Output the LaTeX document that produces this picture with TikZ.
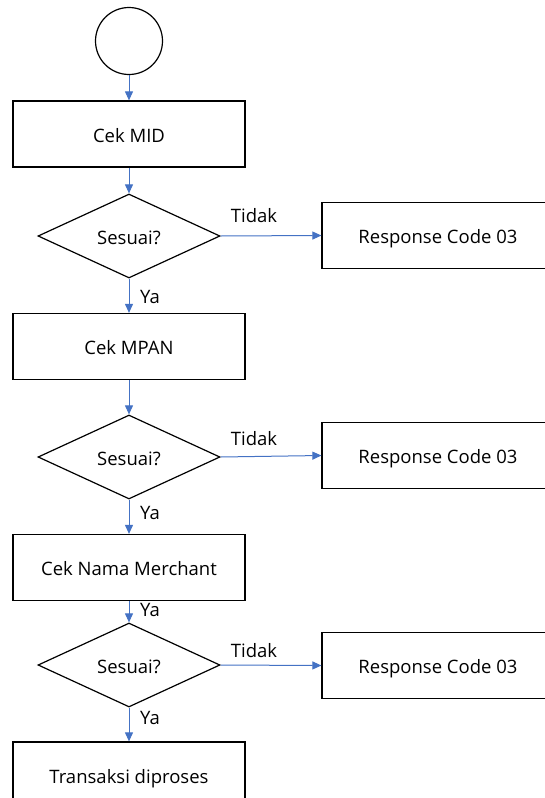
\documentclass[tikz,border=0pt]{standalone}
\usepackage{fontspec}
\setmainfont{Open Sans}
\usetikzlibrary{shapes.geometric,arrows.meta}
\definecolor{flowblue}{HTML}{4472C4}
\tikzset{
  procbox/.style={draw=black, line width=1.2pt, rectangle, minimum width=232pt, minimum height=66pt, inner sep=0pt, text height=16pt, text depth=0pt, font=\fontsize{18.5}{22}\selectfont},
  decide/.style={draw=black, line width=1.2pt, diamond, shape aspect=2.2, minimum width=182pt, minimum height=84pt, inner sep=0pt, text height=16pt, text depth=0pt, font=\fontsize{18.5}{22}\selectfont},
  startnode/.style={draw=black, line width=1.2pt, circle, minimum size=67pt, inner sep=0pt},
  flow/.style={draw=flowblue, line width=1pt, -{Triangle[length=9pt,width=8pt]}},
  lbl/.style={font=\fontsize{18.5}{22}\selectfont, inner sep=0pt}
}
\begin{document}
\begin{tikzpicture}[x=1pt,y=-1pt]
\useasboundingbox (0,0) rectangle (545,798);
\node[startnode] (start) at (129,41) {};
\node[procbox] (mid) at (129,134) {Cek MID};
\node[decide] (d1) at (129,236) {Sesuai?};
\node[procbox] (r1) at (438,235.5) {Response Code 03};
\node[procbox] (mpan) at (129,346.5) {Cek MPAN};
\node[decide] (d2) at (129,457) {Sesuai?};
\node[procbox] (r2) at (438,455.5) {Response Code 03};
\node[procbox] (merch) at (129,567.5) {Cek Nama Merchant};
\node[decide] (d3) at (129,665) {Sesuai?};
\node[procbox] (r3) at (438,665.5) {Response Code 03};
\node[procbox] (trans) at (129,775) {Transaksi diproses};

\draw[flow] (start) -- (mid);
\draw[flow] (mid) -- (d1);
\draw[flow] (d1.east) -- (r1.west);
\draw[flow] (d1) -- (mpan);
\draw[flow] (mpan) -- (d2);
\draw[flow] (d2.east) -- (r2.west);
\draw[flow] (d2) -- (merch);
\draw[flow] (merch) -- (d3);
\draw[flow] (d3.east) -- (r3.west);
\draw[flow] (d3) -- (trans);

\node[lbl] (t1) at (254,216) {Tidak};
\node[lbl] (t2) at (254,439) {Tidak};
\node[lbl] (t3) at (254,651) {Tidak};
\node[lbl] (y1) at (150,297) {Ya};
\node[lbl] (y2) at (150,513) {Ya};
\node[lbl] (y3) at (150,610) {Ya};
\node[lbl] (y4) at (150,718) {Ya};
\end{tikzpicture}
\end{document}
